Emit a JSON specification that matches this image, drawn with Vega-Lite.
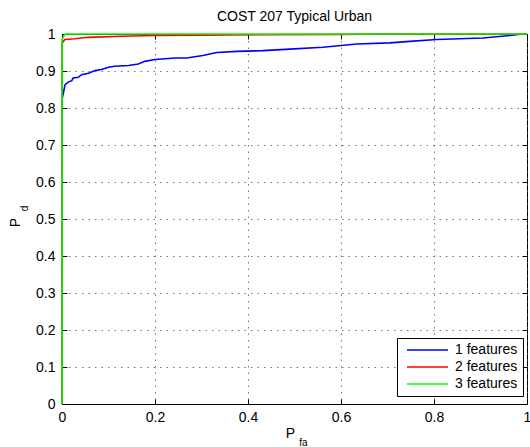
{
  "$schema": "https://vega.github.io/schema/vega-lite/v6.json",
  "width": 465,
  "height": 370,
  "autosize": {"type": "none"},
  "padding": {"left": 62, "top": 34, "right": 3, "bottom": 43},
  "background": "white",
  "title": {"text": "COST 207 Typical Urban", "font": "Liberation Sans", "fontSize": 14, "fontWeight": "normal", "color": "black", "offset": 3, "anchor": "middle"},
  "data": {"values": [
    {"s": "1 features", "i": 0, "x": 0, "y": 0},
    {"s": "1 features", "i": 1, "x": 0.0006, "y": 0.827},
    {"s": "1 features", "i": 2, "x": 0.003, "y": 0.84},
    {"s": "1 features", "i": 3, "x": 0.0065, "y": 0.863},
    {"s": "1 features", "i": 4, "x": 0.0135, "y": 0.87},
    {"s": "1 features", "i": 5, "x": 0.021, "y": 0.874},
    {"s": "1 features", "i": 6, "x": 0.024, "y": 0.881},
    {"s": "1 features", "i": 7, "x": 0.035, "y": 0.883},
    {"s": "1 features", "i": 8, "x": 0.042, "y": 0.89},
    {"s": "1 features", "i": 9, "x": 0.057, "y": 0.894},
    {"s": "1 features", "i": 10, "x": 0.071, "y": 0.901},
    {"s": "1 features", "i": 11, "x": 0.085, "y": 0.904},
    {"s": "1 features", "i": 12, "x": 0.1, "y": 0.91},
    {"s": "1 features", "i": 13, "x": 0.114, "y": 0.913},
    {"s": "1 features", "i": 14, "x": 0.143, "y": 0.915},
    {"s": "1 features", "i": 15, "x": 0.164, "y": 0.919},
    {"s": "1 features", "i": 16, "x": 0.178, "y": 0.926},
    {"s": "1 features", "i": 17, "x": 0.2, "y": 0.931},
    {"s": "1 features", "i": 18, "x": 0.243, "y": 0.935},
    {"s": "1 features", "i": 19, "x": 0.268, "y": 0.935},
    {"s": "1 features", "i": 20, "x": 0.303, "y": 0.942},
    {"s": "1 features", "i": 21, "x": 0.333, "y": 0.95},
    {"s": "1 features", "i": 22, "x": 0.376, "y": 0.953},
    {"s": "1 features", "i": 23, "x": 0.432, "y": 0.955},
    {"s": "1 features", "i": 24, "x": 0.49, "y": 0.959},
    {"s": "1 features", "i": 25, "x": 0.561, "y": 0.964},
    {"s": "1 features", "i": 26, "x": 0.634, "y": 0.973},
    {"s": "1 features", "i": 27, "x": 0.705, "y": 0.976},
    {"s": "1 features", "i": 28, "x": 0.748, "y": 0.98},
    {"s": "1 features", "i": 29, "x": 0.806, "y": 0.985},
    {"s": "1 features", "i": 30, "x": 0.905, "y": 0.989},
    {"s": "1 features", "i": 31, "x": 0.963, "y": 0.996},
    {"s": "1 features", "i": 32, "x": 0.991, "y": 1},
    {"s": "1 features", "i": 33, "x": 1, "y": 1},
    {"s": "2 features", "i": 0, "x": 0, "y": 0},
    {"s": "2 features", "i": 1, "x": 0, "y": 0.975},
    {"s": "2 features", "i": 2, "x": 0.003, "y": 0.98},
    {"s": "2 features", "i": 3, "x": 0.006, "y": 0.985},
    {"s": "2 features", "i": 4, "x": 0.028, "y": 0.987},
    {"s": "2 features", "i": 5, "x": 0.056, "y": 0.991},
    {"s": "2 features", "i": 6, "x": 0.128, "y": 0.994},
    {"s": "2 features", "i": 7, "x": 0.2, "y": 0.996},
    {"s": "2 features", "i": 8, "x": 0.3, "y": 0.997},
    {"s": "2 features", "i": 9, "x": 0.44, "y": 0.998},
    {"s": "2 features", "i": 10, "x": 0.6, "y": 0.999},
    {"s": "2 features", "i": 11, "x": 0.68, "y": 1},
    {"s": "2 features", "i": 12, "x": 1, "y": 1},
    {"s": "3 features", "i": 0, "x": 0, "y": 0},
    {"s": "3 features", "i": 1, "x": 0, "y": 0.985},
    {"s": "3 features", "i": 2, "x": 0.0065, "y": 1},
    {"s": "3 features", "i": 3, "x": 1, "y": 1}
  ]},
  "config": {
    "view": {"stroke": "black", "strokeWidth": 1},
    "axis": {
      "labelFont": "Liberation Sans",
      "labelFontSize": 14,
      "labelColor": "black",
      "titleFont": "Liberation Sans",
      "titleFontWeight": "normal",
      "titleColor": "black",
      "domainColor": "black",
      "tickColor": "black",
      "tickSize": -5,
      "gridColor": "#555555",
      "gridDash": [1.5, 5],
      "gridWidth": 1,
      "gridOpacity": 0.8
    }
  },
  "layer": [
    {
      "mark": {"type": "line", "strokeWidth": 1.6},
      "encoding": {
        "x": {"field": "x", "type": "quantitative", "scale": {"domain": [0, 1], "nice": false},
          "axis": {"orient": "bottom", "values": [0, 0.2, 0.4, 0.6, 0.8, 1], "format": "~g", "grid": true, "labelPadding": 11, "labelFlush": false,
            "title": "P", "titleFontSize": 14, "titleX": 228, "titleY": 33, "titleAlign": "center", "titleBaseline": "alphabetic", "titleAnchor": null}},
        "y": {"field": "y", "type": "quantitative", "scale": {"domain": [0, 1], "nice": false},
          "axis": {"orient": "left", "values": [0, 0.1, 0.2, 0.3, 0.4, 0.5, 0.6, 0.7, 0.8, 0.9, 1], "format": "~g", "grid": true, "labelPadding": 12, "labelFlush": false,
            "title": "P", "titleFontSize": 14, "titleAngle": 270, "titleX": -43, "titleY": 188, "titleAlign": "center", "titleBaseline": "alphabetic", "titleAnchor": null}},
        "color": {"field": "s", "type": "nominal",
          "scale": {"domain": ["1 features", "2 features", "3 features"], "range": ["#0000ff", "#ff0000", "#00ff00"]},
          "legend": {"orient": "none", "legendX": 335, "legendY": 304, "title": null, "strokeColor": "black", "fillColor": "white", "padding": 5,
            "labelFont": "Liberation Sans", "labelFontSize": 14, "labelColor": "black", "symbolType": "stroke", "symbolStrokeWidth": 1.6, "symbolSize": 1681,
            "symbolOffset": 4, "clipHeight": 14, "rowPadding": 3, "labelOffset": 6}},
        "order": {"field": "i", "type": "quantitative"}
      }
    },
    {
      "mark": {"type": "line", "opacity": 0},
      "encoding": {
        "x": {"field": "x", "type": "quantitative", "scale": {"domain": [0, 1], "nice": false},
          "axis": {"orient": "top", "values": [0, 0.2, 0.4, 0.6, 0.8, 1], "labels": false, "grid": false, "domain": false,
            "title": "fa", "titleFontSize": 10, "titleX": 241, "titleY": 411, "titleAlign": "center", "titleBaseline": "alphabetic", "titleAnchor": null}},
        "y": {"field": "y", "type": "quantitative", "scale": {"domain": [0, 1], "nice": false},
          "axis": {"orient": "right", "values": [0, 0.1, 0.2, 0.3, 0.4, 0.5, 0.6, 0.7, 0.8, 0.9, 1], "labels": false, "grid": false, "domain": false,
            "title": "d", "titleFontSize": 10, "titleAngle": 270, "titleX": -500, "titleY": 174, "titleAlign": "center", "titleBaseline": "alphabetic", "titleAnchor": null}},
        "detail": {"field": "s", "type": "nominal"},
        "order": {"field": "i", "type": "quantitative"}
      }
    }
  ],
  "resolve": {"axis": {"x": "independent", "y": "independent"}}
}
